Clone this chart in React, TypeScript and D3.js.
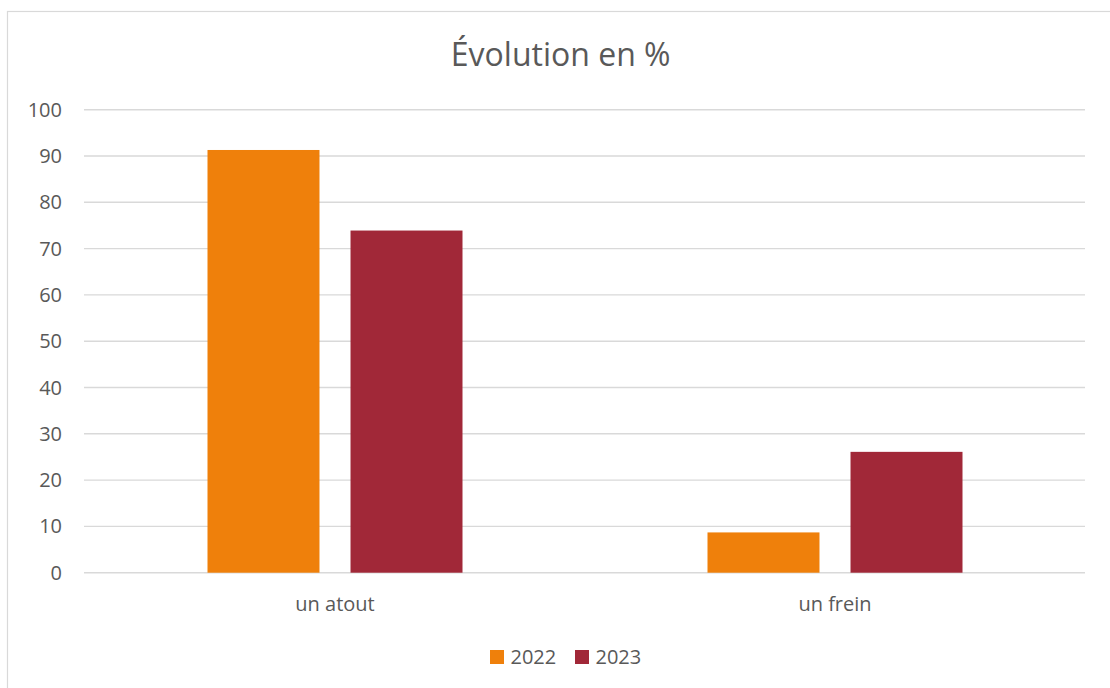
import React from "react";
import * as d3 from "d3";

const categories = ["un atout", "un frein"];
const seriesNames = ["2022", "2023"];
const values2022 = [91.3, 8.7];
const values2023 = [73.9, 26.1];
const yTicks = [0, 10, 20, 30, 40, 50, 60, 70, 80, 90, 100];
const colors = ["#EF800B", "#A12838"];
const title = "Évolution en %";

const W = 1110;
const H = 688;
const FONT = "'Open Sans', sans-serif";
const TXT = "#595959";

export default function App() {
  const series = [values2022, values2023];
  const x0 = d3.scaleBand<string>().domain(categories).range([85, 1085]).padding(0);
  const groupW = 255;
  const x1 = d3
    .scaleBand<string>()
    .domain(seriesNames)
    .range([(x0.bandwidth() - groupW) / 2, (x0.bandwidth() + groupW) / 2])
    .paddingInner(0.217)
    .paddingOuter(0);
  const y = d3.scaleLinear().domain([0, 100]).range([572.7, 109.7]);

  return (
    <svg
      width={W}
      height={H}
      style={{ position: "fixed", left: 0, top: 0, background: "#fff" }}
      fontFamily={FONT}
    >
      <rect x={0} y={0} width={W} height={H} fill="#fff" />
      <rect x={7.5} y={11.5} width={W + 10} height={H + 10} fill="none" stroke="#d9d9d9" strokeWidth={1.2} />
      <text x={560.7} y={66} textAnchor="middle" fontSize={32} fill={TXT}>
        {title}
      </text>
      {yTicks.map((t) => (
        <g key={t}>
          <line x1={84} x2={1085} y1={y(t)} y2={y(t)} stroke="#d9d9d9" strokeWidth={1.4} />
          <text x={62} y={y(t)} dy="0.35em" textAnchor="end" fontSize={20} fill={TXT}>
            {t}
          </text>
        </g>
      ))}
      {categories.map((c, ci) => (
        <g key={c} transform={`translate(${x0(c)},0)`}>
          {seriesNames.map((s, si) => (
            <rect
              key={s}
              x={x1(s)}
              width={x1.bandwidth()}
              y={y(series[si][ci])}
              height={y(0) - y(series[si][ci])}
              fill={colors[si]}
            />
          ))}
          <text x={x0.bandwidth() / 2} y={611} textAnchor="middle" fontSize={20} fill={TXT}>
            {c}
          </text>
        </g>
      ))}
      {seriesNames.map((s, i) => (
        <g key={s} transform={`translate(${490 + i * 85},650)`}>
          <rect x={0} y={0} width={14} height={14} fill={colors[i]} />
          <text x={20.5} y={7} dy="0.35em" fontSize={20} fill={TXT}>
            {s}
          </text>
        </g>
      ))}
    </svg>
  );
}
